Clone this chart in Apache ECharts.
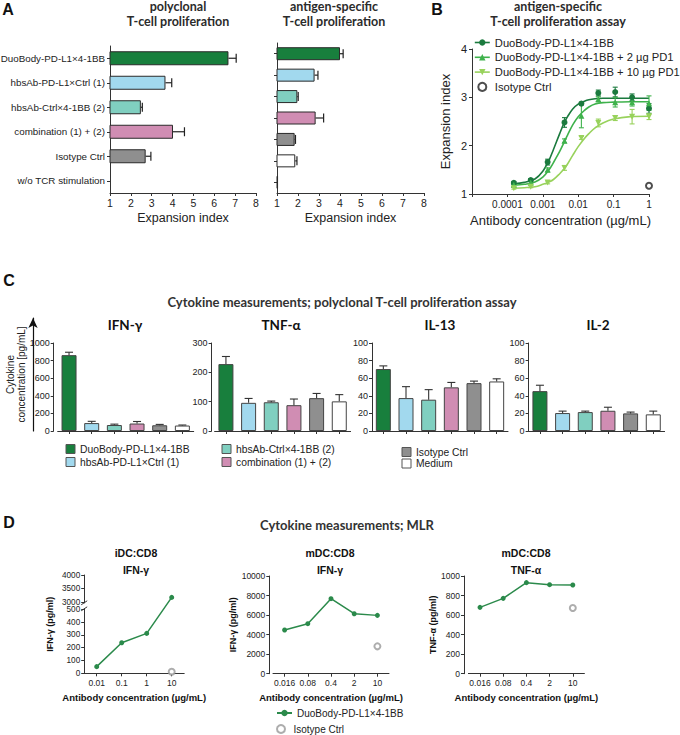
<!DOCTYPE html>
<html><head><meta charset="utf-8">
<script src="https://cdn.jsdelivr.net/npm/echarts@6/dist/echarts.min.js"></script>
<style>html,body{margin:0;padding:0;background:#fff}#c{width:680px;height:735px}</style>
</head><body><div id="c"></div>
<script>
// ================= DATA =================
// Panel A
const groupsA = ['DuoBody-PD-L1×4-1BB','hbsAb-PD-L1×Ctrl (1)','hbsAb-Ctrl×4-1BB (2)','combination (1) + (2)','Isotype Ctrl','w/o TCR stimulation'];
const polyIndex = [6.68, 3.66, 2.48, 4.02, 2.71, 1.02];
const polySD    = [0.37, 0.30, 0.07, 0.55, 0.25, 0];
const antigenGroups = ['DuoBody-PD-L1×4-1BB','hbsAb-PD-L1×Ctrl (1)','hbsAb-Ctrl×4-1BB (2)','combination (1) + (2)','Isotype Ctrl','Medium','w/o TCR stimulation'];
const antigenIndex = [4.00, 2.79, 1.97, 2.84, 1.84, 1.87, 1.05];
const antigenSD    = [0.15, 0.16, 0.04, 0.38, 0.04, 0.08, 0];

// Panel B
const concB = [0.000152, 0.000457, 0.00137, 0.0041, 0.0123, 0.037, 0.111, 0.333, 1];
const duoB    = [1.23, 1.29, 1.66, 2.48, 2.87, 3.09, 3.11, 3.00, 2.77];
const duoBSD  = [0.03, 0.03, 0.06, 0.10, 0.03, 0.06, 0.10, 0.07, 0.10];
const pd2B    = [1.19, 1.24, 1.50, 2.10, 2.62, 2.96, 2.90, 2.90, 2.88];
const pd2BSD  = [0.03, 0.03, 0.04, 0.04, 0.25, 0.05, 0.10, 0.08, 0.15];
const pd10B   = [1.12, 1.15, 1.24, 1.54, 2.16, 2.47, 2.57, 2.60, 2.60];
const pd10BSD = [0.02, 0.02, 0.03, 0.05, 0.03, 0.08, 0.05, 0.15, 0.06];
const isoConcB = [1];
const isoB = [1.17];
const fitConc = [0.00015,0.0003,0.0006,0.001,0.0015,0.002,0.003,0.004,0.005,0.007,0.01,0.015,0.02,0.03,0.05,0.1,0.3,1];
const fitDuo  = [1.21,1.24,1.31,1.47,1.70,1.92,2.25,2.47,2.60,2.76,2.86,2.92,2.95,2.97,2.98,2.98,2.98,2.98];
const fitPd2  = [1.18,1.20,1.25,1.35,1.50,1.65,1.88,2.07,2.22,2.43,2.60,2.73,2.80,2.86,2.89,2.90,2.91,2.91];
const fitPd10 = [1.12,1.13,1.15,1.20,1.25,1.30,1.42,1.52,1.62,1.80,1.98,2.15,2.25,2.37,2.47,2.55,2.60,2.61];
const tickLabelsB = ['0.0001','0.001','0.01','0.1','1'];
const legendB = ['DuoBody-PD-L1×4-1BB','DuoBody-PD-L1×4-1BB + 2 µg PD1','DuoBody-PD-L1×4-1BB + 10 µg PD1','Isotype Ctrl'];

// Panel C
const cytoGroups = ['DuoBody-PD-L1×4-1BB','hbsAb-PD-L1×Ctrl (1)','hbsAb-Ctrl×4-1BB (2)','combination (1) + (2)','Isotype Ctrl','Medium'];
const ifng   = [862, 90, 68, 85, 65, 62];
const ifngSD = [33, 20, 10, 23, 10, 6];
const tnfa   = [228, 96, 98, 88, 112, 101];
const tnfaSD = [26, 15, 4, 21, 16, 23];
const il13   = [70.4, 37.4, 35.6, 49.6, 54.4, 56.3];
const il13SD = [3.6, 13, 11.4, 5.6, 2.3, 3.0];
const il2    = [45.3, 20.4, 21.5, 23.0, 20.0, 18.9];
const il2SD  = [6.7, 2.2, 1.1, 4.0, 1.5, 3.7];

// Panel D
const concD1 = ['0.01','0.1','1','10'];
const d1Duo = [52, 239, 312, 3180];
const d1Iso = [null, null, null, 12];
const d1Ticks = [0,100,200,300,400,500,3000,3500,4000];
const concD2 = ['0.016','0.08','0.4','2','10'];
const d2Duo = [4470, 5120, 7680, 6140, 5970];
const d2Iso = [null, null, null, null, 2800];
const d3Duo = [679, 771, 932, 911, 908];
const d3Iso = [null, null, null, null, 672];

// ================= STYLE =================
const FONT = "'Liberation Sans', Arial, sans-serif";
const TFONT = "Lato, 'Open Sans', sans-serif";
const AX = '#333';
const cGreen='#187f3d', cBlue='#a2d9ee', cTeal='#80cfc0', cPink='#d08db3', cGrey='#8f8f8f', cWhite='#ffffff', cBlack='#222222';
const colorsA = [cGreen,cBlue,cTeal,cPink,cGrey,cBlack];
const colorsA2 = [cGreen,cBlue,cTeal,cPink,cGrey,cWhite,cBlack];
const colorsC = [cGreen,cBlue,cTeal,cPink,cGrey,cWhite];
const bDark='#1b7a3e', bMid='#3fb24c', bLight='#98d25c';
const dGreen='#2b8a4b';

// broken-axis transform for D1 (0-500 | 3000-4000)
const BRK_LO=500, BRK_HI=3000, BRK_GAP=55, BRK_SCALE=0.2133;
const fBrk = v => v==null ? null : (v<=BRK_LO ? v : BRK_LO + BRK_GAP + (v-BRK_HI)*BRK_SCALE);

function G(l,t,w,h){ return {left:l, top:t, width:w, height:h, containLabel:false, outerBoundsMode:'none'}; }
const grids = [
  G(110,46,146,147),   //0 A left
  G(277,43,147,150),   //1 A right
  G(472,49,177,145),   //2 B
  G(57.7,343,136,88),  //3 IFN
  G(214.6,343,136,88), //4 TNF
  G(372,343,136,88),   //5 IL13
  G(528.6,343,136,88), //6 IL2
  G(84.2,575,100,98.3),//7 D1
  G(273,576,116,97.7), //8 D2
  G(468.4,576,116,97.7),//9 D3
  G(33,318,1,113)      //10 arrow
];
const axLine = {show:true, lineStyle:{color:AX,width:1}};
const axTick = {show:true, length:3, lineStyle:{color:AX,width:1}};
const plain = v => String(v);
function valAxis(gi,o){ return Object.assign({gridIndex:gi,type:'value',axisLine:axLine,axisTick:axTick,splitLine:{show:false},
  axisLabel:{fontSize:9,color:'#222',fontFamily:FONT,margin:4,formatter:plain}},o); }
function catAxis(gi,data,o){ return Object.assign({gridIndex:gi,type:'category',data,axisLine:axLine,
  axisTick:{show:true,length:3,alignWithLabel:true,interval:0,lineStyle:{color:AX,width:1}},splitLine:{show:false},
  axisLabel:{show:false}},o); }

const aXName = {name:'Expansion index',nameLocation:'middle',nameGap:18,nameTextStyle:{fontSize:12.5,color:'#222',fontFamily:FONT}};
const dXName = {name:'Antibody concentration (µg/mL)',nameLocation:'middle',nameGap:19,nameTextStyle:{fontSize:9.5,fontWeight:'bold',color:'#111',fontFamily:FONT}};
const dLab = {show:true,interval:0,fontSize:8.5,color:'#222',fontFamily:FONT,margin:5};
const dYName = n => ({name:n,nameLocation:'middle',nameRotate:90,nameTextStyle:{fontSize:9,fontWeight:'bold',color:'#111',fontFamily:FONT}});
const dYLab = {fontSize:8.5,color:'#222',fontFamily:FONT,margin:4,formatter:plain};

const xAxis = [
  valAxis(0,Object.assign({min:1,max:8,interval:1,axisLabel:{fontSize:10.5,color:'#222',fontFamily:FONT,margin:4,formatter:plain}},aXName)),
  valAxis(1,Object.assign({min:1,max:8,interval:1,axisLabel:{fontSize:10.5,color:'#222',fontFamily:FONT,margin:4,formatter:plain}},aXName)),
  {gridIndex:2,type:'log',logBase:10,min:0.00001,max:1,axisLine:axLine,axisTick:axTick,splitLine:{show:false},
    axisLabel:{fontSize:10,color:'#222',fontFamily:FONT,margin:5,
      formatter:v=>{const e=Math.round(Math.log10(v)); return tickLabelsB[e+4]||'';}},
    name:'Antibody concentration (µg/mL)',nameLocation:'middle',nameGap:20,nameTextStyle:{fontSize:13,color:'#222',fontFamily:FONT}},
  catAxis(3,cytoGroups), catAxis(4,cytoGroups), catAxis(5,cytoGroups), catAxis(6,cytoGroups),
  catAxis(7,concD1,Object.assign({axisLabel:dLab},dXName)),
  catAxis(8,concD2,Object.assign({axisLabel:dLab},dXName)),
  catAxis(9,concD2,Object.assign({axisLabel:dLab},dXName)),
  {gridIndex:10,type:'value',show:false}
];
const brkTickVals = d1Ticks.map(fBrk);
const yAxis = [
  catAxis(0,groupsA,{inverse:true,axisLabel:{show:true,interval:0,fontSize:9.8,color:'#222',fontFamily:FONT,margin:5}}),
  catAxis(1,antigenGroups,{inverse:true}),
  valAxis(2,{min:1,max:4,interval:1,axisLabel:{fontSize:11,color:'#222',fontFamily:FONT,margin:5,formatter:plain},
    name:'Expansion index',nameLocation:'middle',nameGap:20,nameTextStyle:{fontSize:13,color:'#222',fontFamily:FONT}}),
  valAxis(3,{min:0,max:1000,interval:200,offset:4}),
  valAxis(4,{min:0,max:300,interval:100,offset:3}),
  valAxis(5,{min:0,max:100,interval:20,offset:0}),
  valAxis(6,{min:0,max:100,interval:20,offset:0}),
  valAxis(7,Object.assign({min:0,max:fBrk(4000),nameGap:30,
    axisLabel:{fontSize:8.2,lineHeight:7,color:'#222',fontFamily:FONT,margin:4,customValues:brkTickVals,
      formatter:v=>{let b=d1Ticks[0],bd=1e9; d1Ticks.forEach(t=>{const d=Math.abs(fBrk(t)-v); if(d<bd){bd=d;b=t;}}); return String(b);}},
    axisTick:{show:true,length:3,customValues:brkTickVals,lineStyle:{color:AX}}},dYName('IFN-γ (pg/ml)'))),
  valAxis(8,Object.assign({min:0,max:10000,interval:2000,offset:3.7,nameGap:30,axisLabel:dYLab},dYName('IFN-γ (pg/ml)'))),
  valAxis(9,Object.assign({min:0,max:1000,interval:200,offset:4.4,nameGap:26,axisLabel:dYLab},dYName('TNF-α (pg/ml)'))),
  {gridIndex:10,type:'value',min:0,max:1,axisLine:{show:true,symbol:['none','arrow'],symbolSize:[7,10],lineStyle:{color:'#111',width:1.2}},
    axisTick:{show:false},axisLabel:{show:false},splitLine:{show:false},
    name:'Cytokine\nconcentration [pg/mL]',nameLocation:'middle',nameRotate:90,nameGap:6,
    nameTextStyle:{fontSize:10,color:'#222',fontFamily:FONT,lineHeight:11}}
];

// ---- error bar renderers ----
function hErr(cap,color){ return (p,api)=>{ const v=api.value(0),c=api.value(1),e=api.value(2); if(!e) return null;
  const a=api.coord([v,c]), b=api.coord([v+e,c]); const st={stroke:color,lineWidth:1.2};
  return {type:'group',children:[{type:'line',shape:{x1:a[0],y1:a[1],x2:b[0],y2:b[1]},style:st},
    {type:'line',shape:{x1:b[0],y1:b[1]-cap,x2:b[0],y2:b[1]+cap},style:st}]}; }; }
function vErr(cap,color,both){ return (p,api)=>{ const x=api.value(0),y=api.value(1),e=api.value(2); if(!e) return null;
  const lo=api.coord([x,both?y-e:y]), hi=api.coord([x,y+e]); const st={stroke:color,lineWidth:1.1};
  const ch=[{type:'line',shape:{x1:lo[0],y1:lo[1],x2:hi[0],y2:hi[1]},style:st},
    {type:'line',shape:{x1:hi[0]-cap,y1:hi[1],x2:hi[0]+cap,y2:hi[1]},style:st}];
  if(both) ch.push({type:'line',shape:{x1:lo[0]-cap,y1:lo[1],x2:lo[0]+cap,y2:lo[1]},style:st});
  return {type:'group',children:ch}; }; }

const series = [];
// A bars
function aBars(gi,vals,sds,cols,bw){
  series.push({type:'bar',xAxisIndex:gi,yAxisIndex:gi,barWidth:bw,clip:true,silent:true,
    itemStyle:{borderColor:'#2a2a2a',borderWidth:1},
    data:vals.map((v,i)=>({value:v,itemStyle:{color:cols[i]}}))});
  series.push({type:'custom',xAxisIndex:gi,yAxisIndex:gi,renderItem:hErr(4.5,'#222'),z:5,silent:true,
    encode:{x:0,y:1},data:vals.map((v,i)=>[v,i,sds[i]])});
}
aBars(0,polyIndex,polySD,colorsA,14);
aBars(1,antigenIndex,antigenSD,colorsA2,13);

// B
function bFit(vals,color){ series.push({type:'line',name:'fit',xAxisIndex:2,yAxisIndex:2,smooth:0.35,showSymbol:false,silent:true,
  lineStyle:{color,width:1.6},data:fitConc.map((x,i)=>[x,vals[i]]),z:2}); }
bFit(fitDuo,bDark); bFit(fitPd2,bMid); bFit(fitPd10,bLight);
function bPts(name,vals,sds,color,symbol,rot){
  series.push({type:'custom',xAxisIndex:2,yAxisIndex:2,renderItem:vErr(2.5,color,true),z:3,silent:true,
    encode:{x:0,y:1},data:concB.map((x,i)=>[x,vals[i],sds[i]])});
  series.push({type:'line',name,xAxisIndex:2,yAxisIndex:2,symbol,symbolRotate:rot||0,symbolSize:6,showAllSymbol:true,
    lineStyle:{opacity:0},itemStyle:{color},data:concB.map((x,i)=>[x,vals[i]]),z:4});
}
bPts(legendB[0],duoB,duoBSD,bDark,'circle');
bPts(legendB[1],pd2B,pd2BSD,bMid,'triangle');
bPts(legendB[2],pd10B,pd10BSD,bLight,'triangle',180);
series.push({type:'scatter',name:legendB[3],xAxisIndex:2,yAxisIndex:2,symbol:'emptyCircle',symbolSize:6,
  itemStyle:{color:'#222',borderColor:'#222',borderWidth:1.2},data:isoConcB.map((x,i)=>[x,isoB[i]])});

// C
function cBars(gi,vals,sds){
  series.push({type:'bar',xAxisIndex:gi,yAxisIndex:gi,barWidth:15,silent:true,itemStyle:{borderColor:'#444',borderWidth:1},
    data:vals.map((v,i)=>({value:v,itemStyle:{color:colorsC[i]}}))});
  series.push({type:'custom',xAxisIndex:gi,yAxisIndex:gi,renderItem:vErr(4,'#333',false),z:5,silent:true,
    encode:{x:0,y:1},data:vals.map((v,i)=>[i,v,sds[i]])});
}
cBars(3,ifng,ifngSD); cBars(4,tnfa,tnfaSD); cBars(5,il13,il13SD); cBars(6,il2,il2SD);

// D
function dLine(gi,vals,iso,tf){
  const t = tf || (v=>v);
  series.push({type:'line',name:'MLR DuoBody-PD-L1×4-1BB',xAxisIndex:gi,yAxisIndex:gi,symbol:'circle',symbolSize:5,
    lineStyle:{color:dGreen,width:1.5},itemStyle:{color:dGreen},data:vals.map(t),clip:false});
  series.push({type:'scatter',name:'MLR Isotype Ctrl',xAxisIndex:gi,yAxisIndex:gi,symbol:'emptyCircle',symbolSize:6,
    itemStyle:{color:'#999',borderColor:'#999',borderWidth:1},
    data:iso.map((v,i)=>v==null?null:[i,t(v)]).filter(d=>d)});
}
dLine(7,d1Duo,d1Iso,fBrk); dLine(8,d2Duo,d2Iso); dLine(9,d3Duo,d3Iso);

// ---- text / legend graphics ----
const gfx = [];
function txt(x,y,text,o){ const fs=(o&&o.fontSize)||12.5; gfx.push({type:'text',x,y,silent:true,style:Object.assign({text,fill:'#2b2b2b',align:'center',verticalAlign:'middle',
  fontFamily:TFONT,fontWeight:'bold',fontSize:12.5,lineHeight:Math.round(fs)},o||{})}); }
txt(8,9,'A',{fontFamily:FONT,fontSize:16,fill:'#111'});
txt(178,6.5,'polyclonal');
txt(178,21.5,'T-cell proliferation');
txt(334,6.5,'antigen-specific');
txt(334,21.5,'T-cell proliferation');
txt(437,9,'B',{fontFamily:FONT,fontSize:16,fill:'#111'});
txt(558,6.5,'antigen-specific');
txt(558,21.5,'T-cell proliferation assay');
txt(9,280,'C',{fontFamily:FONT,fontSize:16,fill:'#111'});
txt(342,302,'Cytokine measurements; polyclonal T-cell proliferation assay',{fontSize:13,fill:'#333'});
txt(125,325,'IFN-γ',{fontSize:13.5,fill:'#111'});
txt(281,325,'TNF-α',{fontSize:13.5,fill:'#111'});
txt(440,325,'IL-13',{fontSize:13.5,fill:'#111'});
txt(598,325,'IL-2',{fontSize:13.5,fill:'#111'});
txt(9,522,'D',{fontFamily:FONT,fontSize:16,fill:'#111'});
txt(347,525,'Cytokine measurements; MLR',{fontSize:13,fill:'#333'});
const dt = {fontFamily:FONT,fontSize:10.5,fill:'#111'};
txt(136,553,'iDC:CD8',dt); txt(136,570,'IFN-γ',dt);
txt(330,553,'mDC:CD8',dt); txt(330,570,'IFN-γ',dt);
txt(526,553,'mDC:CD8',dt); txt(526,570,'TNF-α',dt);

// C legend swatches
const cLegPos = [[66,449],[66,462],[222,449],[222,462],[402,452],[402,463.5]];
cytoGroups.forEach((n,i)=>{
  const [x,y]=cLegPos[i];
  gfx.push({type:'rect',silent:true,shape:{x:x,y:y-4.5,width:9,height:9},style:{fill:colorsC[i],stroke:'#555',lineWidth:1}});
  gfx.push({type:'text',silent:true,x:x+14,y:y,style:{text:n,fill:'#222',fontFamily:FONT,fontSize:10.3,verticalAlign:'middle',align:'left'}});
});

const dLegText = {fontSize:10,color:'#222',fontFamily:FONT};
const option = {
  backgroundColor:'#fff', animation:false,
  textStyle:{fontFamily:FONT},
  grid:grids, xAxis, yAxis, series,
  legend:[
    {data:legendB, orient:'vertical', left:474, top:37, padding:0, itemWidth:15, itemHeight:8, itemGap:3.8, selectedMode:false,
     textStyle:{fontSize:11.2,color:'#222',fontFamily:FONT}, lineStyle:{opacity:1,width:1.6}},
    {data:['MLR DuoBody-PD-L1×4-1BB'], orient:'vertical', left:276, top:708, padding:0, itemWidth:15, itemHeight:8,
     selectedMode:false, formatter:n=>n.replace('MLR ',''), textStyle:dLegText},
    {data:['MLR Isotype Ctrl'], orient:'vertical', left:276, top:724, padding:0, itemWidth:15, itemHeight:8,
     selectedMode:false, formatter:n=>n.replace('MLR ',''), textStyle:dLegText}
  ],
  graphic: gfx
};
const chart = echarts.init(document.getElementById('c'), null, {renderer:'svg', width:680, height:735});
chart.setOption(option);

// axis-break marks on D1 y axis
const yLo = chart.convertToPixel({yAxisIndex:7}, fBrk(BRK_LO));
const yHi = chart.convertToPixel({yAxisIndex:7}, fBrk(BRK_HI));
const ax = grids[7].left;
chart.setOption({graphic: gfx.concat([
  {type:'rect',silent:true,shape:{x:ax-2,y:yHi+1,width:4,height:yLo-yHi-2},style:{fill:'#fff'},z:100},
  {type:'line',silent:true,shape:{x1:ax-3,y1:yLo+1.5,x2:ax+3,y2:yLo-2.5},style:{stroke:'#333',lineWidth:1},z:101},
  {type:'line',silent:true,shape:{x1:ax-3,y1:yHi+2.5,x2:ax+3,y2:yHi-1.5},style:{stroke:'#333',lineWidth:1},z:101}
])});
</script></body></html>
